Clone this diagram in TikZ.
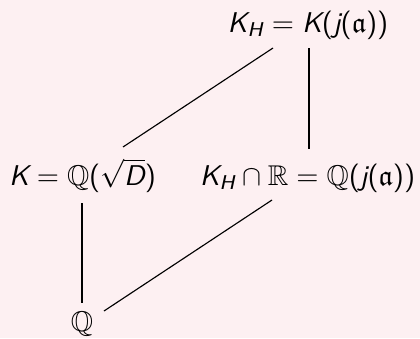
\documentclass[tikz,border=0pt]{standalone}
\usepackage{amsmath,amssymb}
\usetikzlibrary{calc}
\definecolor{bgpink}{RGB}{253,240,242}
\newcommand\myv[1]{\text{\sffamily\itshape #1}}
\newcommand\myp[1]{\text{\sffamily\upshape #1}}
\begin{document}
\begin{tikzpicture}[x=0.35pt,y=-0.35pt,
  lbl/.style={inner sep=0pt,anchor=base,font=\fontsize{10}{12}\selectfont},
  edge/.style={draw=black,line width=0.4pt}]
\fill[bgpink] (0,0) rectangle (420,338);
\useasboundingbox (0,0) rectangle (420,338);
\node[lbl] (t) at (308,32) {$\myv{K}_{\myv{H}} = \myv{K}\myp{(}\myv{j}\myp{(}\mathfrak{a}\myp{))}$};
\node[lbl] (l) at (82.5,185) {$\myv{K} = \mathbb{Q}\myp{(}\sqrt{\myv{D}}\myp{)}$};
\node[lbl] (r) at (307.5,185) {$\myv{K}_{\myv{H}} \cap \mathbb{R} = \mathbb{Q}\myp{(}\myv{j}\myp{(}\mathfrak{a}\myp{))}$};
\node[lbl] (b) at (82,331) {$\mathbb{Q}$};
\draw[edge] ($(l.base)+(40.5,-38)$) -- ($(t.base)+(-35,16)$);
\draw[edge] ($(t.base)+(1,16)$) -- ($(r.base)+(1.5,-36)$);
\draw[edge] ($(l.base)+(-0.5,18)$) -- ($(b.base)+(0,-28)$);
\draw[edge] ($(b.base)+(22,-20)$) -- ($(r.base)+(-35.5,15)$);
\end{tikzpicture}
\end{document}
